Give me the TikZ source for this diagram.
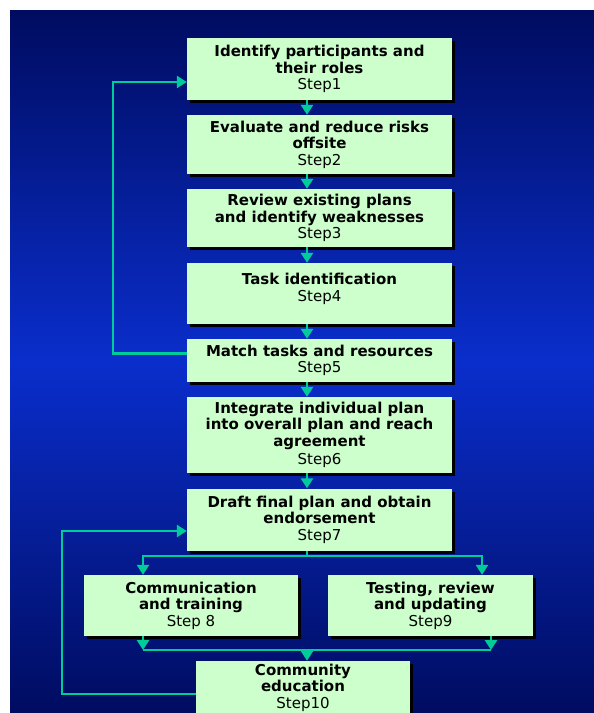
\documentclass[tikz,border=0pt]{standalone}
\usepackage{fontspec}
\setmainfont{DejaVu Sans}
\usetikzlibrary{arrows.meta,shadows}
\definecolor{bgdark}{RGB}{0,12,96}
\definecolor{bgmid}{RGB}{10,46,204}
\definecolor{boxgreen}{RGB}{204,255,204}
\definecolor{linkgreen}{RGB}{0,204,153}
\begin{document}
\begin{tikzpicture}[x=1pt,y=-1pt,
    box/.style={fill=boxgreen,inner sep=0pt,align=center,
      drop shadow={shadow xshift=3pt,shadow yshift=-3pt,fill=black,opacity=1},
      font=\bfseries\fontsize{15}{16.5}\selectfont},
    link/.style={draw=linkgreen,line width=2.5pt},
    flow/.style={link,-{Triangle[width=12pt,length=10pt]}}]
  \path[use as bounding box,clip] (0,0) rectangle (594,713);
  \shade[top color=bgdark,bottom color=bgdark,middle color=bgmid] (10,10) rectangle (594,713);
  % steps
  \draw
    (319.5,69) node[box,minimum width=265pt,minimum height=62pt] (b1)
      {Identify participants and\\their roles\\\mdseries Step1}
    (319.5,144.5) node[box,minimum width=265pt,minimum height=59pt] (b2)
      {Evaluate and reduce risks\\offsite\\\mdseries Step2}
    (319.5,218) node[box,minimum width=265pt,minimum height=58pt] (b3)
      {Review existing plans\\and identify weaknesses\\\mdseries Step3}
    (319.5,293.5) node[box,minimum width=265pt,minimum height=61pt,text depth=12pt] (b4)
      {Task identification\\\mdseries Step4}
    (319.5,360.5) node[box,minimum width=265pt,minimum height=43pt] (b5)
      {Match tasks and resources\\\mdseries Step5}
    (319.5,435) node[box,minimum width=265pt,minimum height=76pt] (b6)
      {Integrate individual plan\\into overall plan and reach\\agreement\\[2pt]\mdseries Step6}
    (319.5,519.5) node[box,minimum width=265pt,minimum height=62pt] (b7)
      {Draft final plan and obtain\\endorsement\\\mdseries Step7}
    (191,605.5) node[box,minimum width=214pt,minimum height=61pt] (b8)
      {Communication\\and training\\\mdseries Step 8}
    (430.5,605.5) node[box,minimum width=205pt,minimum height=61pt] (b9)
      {Testing, review\\and updating\\\mdseries Step9}
    (303,693) node[box,minimum width=214pt,minimum height=64pt,text depth=14pt] (b10)
      {Community\\education\\\mdseries Step10};
  \coordinate (spine) at (307,0);
  \coordinate (split) at (307,556);
  \coordinate (merge) at (307,650);
  % main chain
  \begin{scope}[flow]
    \draw (b1.south -| spine) -- (b2.north -| spine);
    \draw (b2.south -| spine) -- (b3.north -| spine);
    \draw (b3.south -| spine) -- (b4.north -| spine);
    \draw (b4.south -| spine) -- (b5.north -| spine);
    \draw (b5.south -| spine) -- (b6.north -| spine);
    \draw (b6.south -| spine) -- (b7.north -| spine);
  \end{scope}
  % feedback loops
  \draw[flow] ([yshift=7pt]b5.west) -- ++(-74,0) |- ([yshift=-13pt]b1.west);
  \draw[flow] ([yshift=-1pt]b10.west) -- ++(-134,0) |- ([yshift=-11.5pt]b7.west);
  % split and merge
  \draw[link] (b7.south -| split) -- (split);
  \draw[flow] (split) -| ([xshift=-48pt]b8.north);
  \draw[flow] (split) -| ([xshift=51.5pt]b9.north);
  \draw[flow] ([xshift=-48pt]b8.south) -- ([xshift=-48pt]b8.south |- merge);
  \draw[flow] ([xshift=60.5pt]b9.south) -- ([xshift=60.5pt]b9.south |- merge);
  \draw[link] ([xshift=-48pt]b8.south |- merge) -- ([xshift=60.5pt]b9.south |- merge);
  \draw[flow] (merge) -- (b10.north -| merge);
\end{tikzpicture}
\end{document}
